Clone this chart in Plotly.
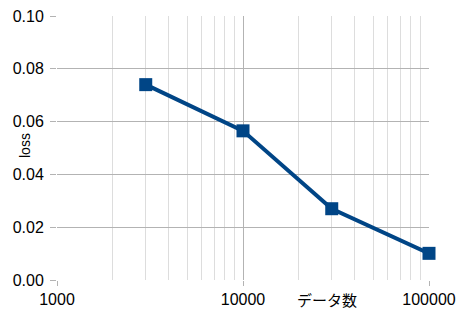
import plotly.graph_objects as go

data_counts = [3000, 10000, 30000, 100000]
loss_values = [0.074, 0.0565, 0.027, 0.0101]
y_ticks = [0.0, 0.02, 0.04, 0.06, 0.08, 0.10]
y_tick_labels = ["0.00", "0.02", "0.04", "0.06", "0.08", "0.10"]
x_ticks = [1000, 10000, 100000]
x_tick_labels = ["1000", "10000", "100000"]
x_minor_ticks = [2000, 3000, 4000, 5000, 6000, 7000, 8000, 9000,
                 20000, 30000, 40000, 50000, 60000, 70000, 80000, 90000]
x_title = "データ数"
y_title = "loss"

blue = "#004586"
major = "#b3b3b3"
minor = "#dddddd"
font = "Liberation Sans, Arial, sans-serif"

fig = go.Figure()
fig.add_trace(go.Scatter(
    x=data_counts, y=loss_values, mode="lines+markers",
    line=dict(color=blue, width=4),
    marker=dict(symbol="square", size=13, color=blue),
    showlegend=False, cliponaxis=False,
))

fig.update_layout(
    width=468, height=319,
    margin=dict(l=57, r=39, t=16, b=39),
    paper_bgcolor="white", plot_bgcolor="white",
    font=dict(family=font, size=16, color="#000000"),
    xaxis=dict(
        type="log", range=[3, 5], automargin=False,
        tickvals=x_ticks, ticktext=x_tick_labels,
        showgrid=True, gridcolor=major, gridwidth=1,
        ticks="outside", ticklen=5, tickcolor=major,
        minor=dict(showgrid=True, gridcolor=minor, gridwidth=1,
                   tickvals=x_minor_ticks, ticks=""),
        zeroline=False, showline=False,
        tickfont=dict(size=16),
    ),
    yaxis=dict(
        range=[0, 0.1], automargin=False,
        tickvals=y_ticks, ticktext=y_tick_labels,
        showgrid=True, gridcolor=major, gridwidth=1,
        ticks="outside", ticklen=6, tickcolor=major,
        ticklabelstandoff=3,
        zeroline=False, showline=False,
        tickfont=dict(size=16),
    ),
    annotations=[
        dict(
            text=x_title, xref="paper", yref="paper",
            x=0.726, y=0, yshift=-19, yanchor="middle", xanchor="center",
            showarrow=False,
            font=dict(family="Noto Sans CJK JP", size=15, color="#000000"),
        ),
        dict(
            text=y_title, xref="paper", yref="paper",
            x=0, xshift=-32, y=0.5, yshift=2,
            xanchor="center", yanchor="middle", textangle=-90,
            showarrow=False,
            font=dict(family=font, size=14, color="#000000"),
        ),
    ],
)

fig.write_html("out.html")
